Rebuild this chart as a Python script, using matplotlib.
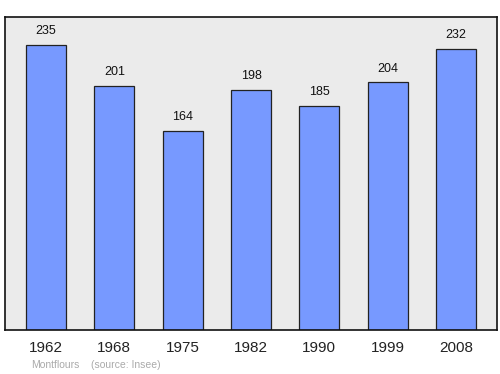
import numpy as np
import matplotlib.pyplot as plt

plt.rcParams['font.family'] = ['Liberation Sans', 'DejaVu Sans']

years = ["1962", "1968", "1975", "1982", "1990", "1999", "2008"]
population = [235, 201, 164, 198, 185, 204, 232]
commune = "Montflours"
source = "(source: Insee)"

fig = plt.figure(figsize=(5, 3.74), dpi=100)
ax = fig.add_axes([0.01, 0.1176, 0.984, 0.837])
ax.set_facecolor("#ebebeb")

x = np.arange(len(years))
ax.bar(x, population, width=0.585, color="#7799ff", edgecolor="#222222", linewidth=0.9)
for xi, v in zip(x, population):
    ax.text(xi, v + 6.5, str(v), ha="center", va="bottom", fontsize=9, color="#111111")

ax.set_xlim(-0.6, 6.6)
ax.set_ylim(0, 258)
ax.set_yticks([])
ax.set_xticks(x)
ax.set_xticklabels(years, fontsize=11, color="#222222")
ax.tick_params(axis="x", length=0, pad=8)
for s in ax.spines.values():
    s.set_linewidth(1.2)
    s.set_color("#111111")

fig.text(31 / 500, 1 - 365 / 374, commune, fontsize=7.5, color="#aaaaaa", va="center")
fig.text(91 / 500, 1 - 365 / 374, source, fontsize=7.5, color="#aaaaaa", va="center")

fig.savefig("out.png", dpi=100)
